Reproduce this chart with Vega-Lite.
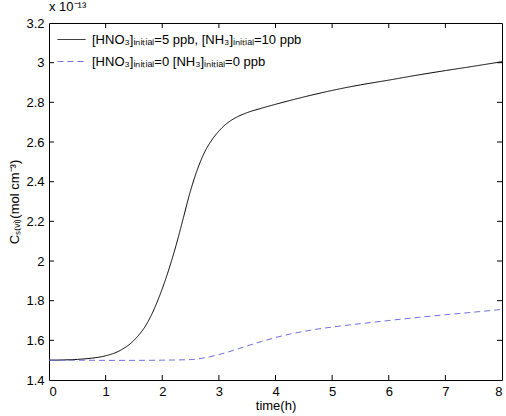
{
  "$schema": "https://vega.github.io/schema/vega-lite/v6.json",
  "width": 453,
  "height": 357,
  "autosize": {"type": "none"},
  "padding": {"left": 49, "top": 23, "right": 4, "bottom": 36},
  "background": "white",
  "title": {"text": "x 10⁻¹³", "anchor": "start", "frame": "group", "fontSize": 13, "font": "Liberation Sans", "fontWeight": "normal", "color": "black", "offset": 3},
  "config": {
    "font": "Liberation Sans",
    "view": {"stroke": "black", "strokeWidth": 1},
    "axis": {"grid": false, "domain": false, "ticks": false, "labelColor": "black", "titleColor": "black", "labelFontSize": 13, "titleFontSize": 13, "titleFontWeight": "normal", "labelPadding": 5}
  },
  "datasets": {
    "d": [
      {"t": 0, "c": 1.500, "s": "a"}, {"t": 0.25, "c": 1.501, "s": "a"}, {"t": 0.5, "c": 1.504, "s": "a"}, {"t": 0.75, "c": 1.510, "s": "a"},
      {"t": 1, "c": 1.522, "s": "a"}, {"t": 1.25, "c": 1.548, "s": "a"}, {"t": 1.5, "c": 1.600, "s": "a"}, {"t": 1.75, "c": 1.695, "s": "a"},
      {"t": 2, "c": 1.860, "s": "a"}, {"t": 2.125, "c": 1.965, "s": "a"}, {"t": 2.25, "c": 2.085, "s": "a"}, {"t": 2.375, "c": 2.220, "s": "a"},
      {"t": 2.5, "c": 2.355, "s": "a"}, {"t": 2.625, "c": 2.465, "s": "a"}, {"t": 2.75, "c": 2.550, "s": "a"}, {"t": 2.875, "c": 2.610, "s": "a"},
      {"t": 3, "c": 2.655, "s": "a"}, {"t": 3.125, "c": 2.690, "s": "a"}, {"t": 3.25, "c": 2.715, "s": "a"}, {"t": 3.5, "c": 2.748, "s": "a"},
      {"t": 3.75, "c": 2.770, "s": "a"}, {"t": 4, "c": 2.790, "s": "a"}, {"t": 4.5, "c": 2.827, "s": "a"}, {"t": 5, "c": 2.860, "s": "a"},
      {"t": 5.5, "c": 2.888, "s": "a"}, {"t": 6, "c": 2.912, "s": "a"}, {"t": 6.5, "c": 2.937, "s": "a"}, {"t": 7, "c": 2.960, "s": "a"},
      {"t": 7.5, "c": 2.982, "s": "a"}, {"t": 8, "c": 3.005, "s": "a"},
      {"t": 0, "c": 1.500, "s": "b"}, {"t": 0.5, "c": 1.500, "s": "b"}, {"t": 1, "c": 1.499, "s": "b"}, {"t": 1.5, "c": 1.499, "s": "b"},
      {"t": 2, "c": 1.500, "s": "b"}, {"t": 2.5, "c": 1.503, "s": "b"}, {"t": 2.75, "c": 1.512, "s": "b"}, {"t": 3, "c": 1.528, "s": "b"},
      {"t": 3.25, "c": 1.549, "s": "b"}, {"t": 3.5, "c": 1.572, "s": "b"}, {"t": 3.75, "c": 1.594, "s": "b"}, {"t": 4, "c": 1.614, "s": "b"},
      {"t": 4.25, "c": 1.631, "s": "b"}, {"t": 4.5, "c": 1.645, "s": "b"}, {"t": 4.75, "c": 1.657, "s": "b"}, {"t": 5, "c": 1.667, "s": "b"},
      {"t": 5.5, "c": 1.684, "s": "b"}, {"t": 6, "c": 1.700, "s": "b"}, {"t": 6.5, "c": 1.715, "s": "b"}, {"t": 7, "c": 1.729, "s": "b"},
      {"t": 7.5, "c": 1.742, "s": "b"}, {"t": 8, "c": 1.756, "s": "b"}
    ],
    "xt": [{"t": 1}, {"t": 2}, {"t": 3}, {"t": 4}, {"t": 5}, {"t": 6}, {"t": 7}],
    "yt": [{"c": 1.6}, {"c": 1.8}, {"c": 2.0}, {"c": 2.2}, {"c": 2.4}, {"c": 2.6}, {"c": 2.8}, {"c": 3.0}]
  },
  "layer": [
    {
      "data": {"name": "d"},
      "mark": {"type": "line", "strokeWidth": 1, "interpolate": "monotone"},
      "encoding": {
        "x": {"field": "t", "type": "quantitative", "scale": {"domain": [0, 8], "nice": false}, "axis": {"title": "time(h)", "values": [0, 1, 2, 3, 4, 5, 6, 7, 8], "format": "~g", "titlePadding": 1}},
        "y": {"field": "c", "type": "quantitative", "scale": {"domain": [1.4, 3.2], "nice": false, "zero": false}, "axis": {"title": "Cₛ₍ᵥᵢ₎(mol cm⁻³)", "values": [1.4, 1.6, 1.8, 2, 2.2, 2.4, 2.6, 2.8, 3, 3.2], "format": "~g", "titlePadding": 4}},
        "color": {"field": "s", "type": "nominal", "scale": {"domain": ["a", "b"], "range": ["black", "#7070e0"]},
          "legend": {"orient": "none", "legendX": 8, "legendY": 2, "title": null, "symbolType": "stroke", "symbolSize": 784, "symbolStrokeWidth": 1, "labelFontSize": 13, "labelColor": "black", "labelLimit": 0, "rowPadding": -6, "labelOffset": 6,
            "labelExpr": "datum.value == 'a' ? '[HNO₃]ᵢₙᵢₜᵢₐₗ=5 ppb, [NH₃]ᵢₙᵢₜᵢₐₗ=10 ppb' : '[HNO₃]ᵢₙᵢₜᵢₐₗ=0 [NH₃]ᵢₙᵢₜᵢₐₗ=0 ppb'"}},
        "strokeDash": {"field": "s", "type": "nominal", "scale": {"domain": ["a", "b"], "range": [[1, 0], [6, 4]]}, "legend": null}
      }
    },
    {
      "data": {"name": "xt"},
      "mark": {"type": "tick", "orient": "vertical", "size": 10, "thickness": 1, "color": "black", "opacity": 1, "clip": true},
      "encoding": {
        "x": {"field": "t", "type": "quantitative", "scale": {"domain": [0, 8], "nice": false}, "axis": {"title": "time(h)", "values": [0, 1, 2, 3, 4, 5, 6, 7, 8], "format": "~g", "titlePadding": 1}},
        "y": {"datum": 1.4, "type": "quantitative", "scale": {"domain": [1.4, 3.2], "nice": false, "zero": false}, "axis": {"title": "Cₛ₍ᵥᵢ₎(mol cm⁻³)", "values": [1.4, 1.6, 1.8, 2, 2.2, 2.4, 2.6, 2.8, 3, 3.2], "format": "~g", "titlePadding": 4}}
      }
    },
    {
      "data": {"name": "xt"},
      "mark": {"type": "tick", "orient": "vertical", "size": 10, "thickness": 1, "color": "black", "opacity": 1, "clip": true},
      "encoding": {
        "x": {"field": "t", "type": "quantitative", "scale": {"domain": [0, 8], "nice": false}, "axis": {"title": "time(h)", "values": [0, 1, 2, 3, 4, 5, 6, 7, 8], "format": "~g", "titlePadding": 1}},
        "y": {"datum": 3.2, "type": "quantitative", "scale": {"domain": [1.4, 3.2], "nice": false, "zero": false}, "axis": {"title": "Cₛ₍ᵥᵢ₎(mol cm⁻³)", "values": [1.4, 1.6, 1.8, 2, 2.2, 2.4, 2.6, 2.8, 3, 3.2], "format": "~g", "titlePadding": 4}}
      }
    },
    {
      "data": {"name": "yt"},
      "mark": {"type": "tick", "orient": "horizontal", "size": 10, "thickness": 1, "color": "black", "opacity": 1, "clip": true},
      "encoding": {
        "x": {"datum": 0, "type": "quantitative", "scale": {"domain": [0, 8], "nice": false}, "axis": {"title": "time(h)", "values": [0, 1, 2, 3, 4, 5, 6, 7, 8], "format": "~g", "titlePadding": 1}},
        "y": {"field": "c", "type": "quantitative", "scale": {"domain": [1.4, 3.2], "nice": false, "zero": false}, "axis": {"title": "Cₛ₍ᵥᵢ₎(mol cm⁻³)", "values": [1.4, 1.6, 1.8, 2, 2.2, 2.4, 2.6, 2.8, 3, 3.2], "format": "~g", "titlePadding": 4}}
      }
    },
    {
      "data": {"name": "yt"},
      "mark": {"type": "tick", "orient": "horizontal", "size": 10, "thickness": 1, "color": "black", "opacity": 1, "clip": true},
      "encoding": {
        "x": {"datum": 8, "type": "quantitative", "scale": {"domain": [0, 8], "nice": false}, "axis": {"title": "time(h)", "values": [0, 1, 2, 3, 4, 5, 6, 7, 8], "format": "~g", "titlePadding": 1}},
        "y": {"field": "c", "type": "quantitative", "scale": {"domain": [1.4, 3.2], "nice": false, "zero": false}, "axis": {"title": "Cₛ₍ᵥᵢ₎(mol cm⁻³)", "values": [1.4, 1.6, 1.8, 2, 2.2, 2.4, 2.6, 2.8, 3, 3.2], "format": "~g", "titlePadding": 4}}
      }
    }
  ]
}
